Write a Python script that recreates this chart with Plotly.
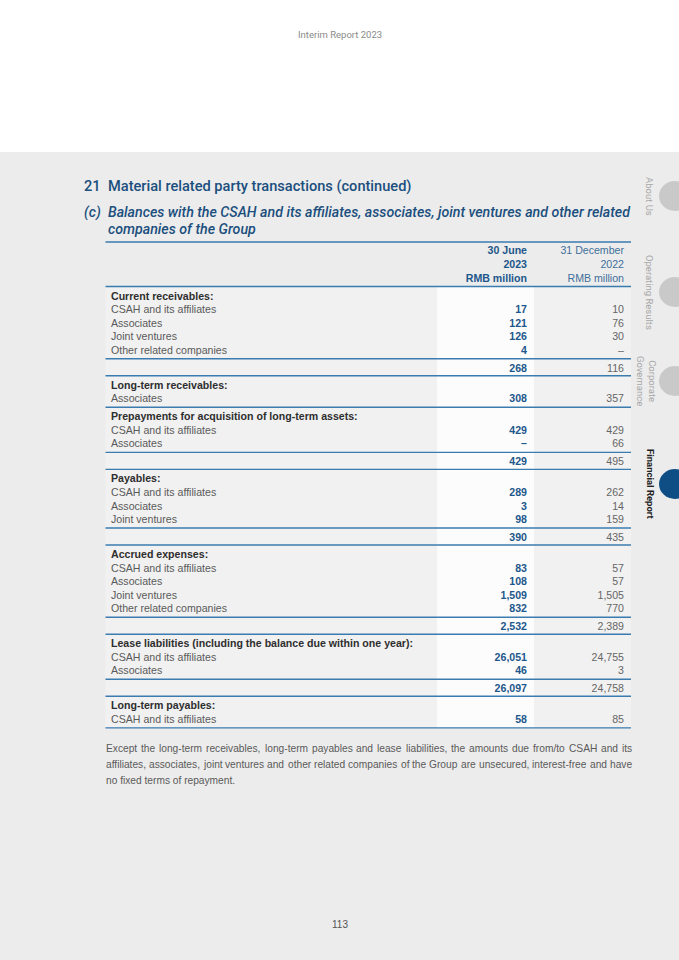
import plotly.graph_objects as go

# ---------------- data ----------------
section_titles = [
    "Current receivables:",
    "Long-term receivables:",
    "Prepayments for acquisition of long-term assets:",
    "Payables:",
    "Accrued expenses:",
    "Lease liabilities (including the balance due within one year):",
    "Long-term payables:",
]
item_labels = [
    ["CSAH and its affiliates", "Associates", "Joint ventures", "Other related companies"],
    ["Associates"],
    ["CSAH and its affiliates", "Associates"],
    ["CSAH and its affiliates", "Associates", "Joint ventures"],
    ["CSAH and its affiliates", "Associates", "Joint ventures", "Other related companies"],
    ["CSAH and its affiliates", "Associates"],
    ["CSAH and its affiliates"],
]
values_2023 = [
    [17, 121, 126, 4],
    [308],
    [429, None],
    [289, 3, 98],
    [83, 108, 1509, 832],
    [26051, 46],
    [58],
]
values_2022 = [
    [10, 76, 30, None],
    [357],
    [429, 66],
    [262, 14, 159],
    [57, 57, 1505, 770],
    [24755, 3],
    [85],
]
subtotal_2023 = [268, None, 429, 390, 2532, 26097, None]
subtotal_2022 = [116, None, 495, 435, 2389, 24758, None]

header_2023 = ["30 June", "2023", "RMB million"]
header_2022 = ["31 December", "2022", "RMB million"]

side_tabs = ["About Us", "Operating Results", "Corporate<br>Governance", "Financial Report"]

note_lines = [
    "Except the long-term receivables, long-term payables and lease liabilities, the amounts due from/to CSAH and its",
    "affiliates, associates, joint ventures and other related companies of the Group are unsecured, interest-free and have",
    "no fixed terms of repayment.",
]

# ---------------- styling ----------------
BLUE_DARK = "#1b4f7e"
BLUE_VAL = "#1d578b"
LINE_BLUE = "#3a7bb0"
GREY_TXT = "#5a5a5a"
HEAD_TXT = "#2e2e2e"
PAGE_GREY = "#ececec"
TABLE_BG = "#f1f1f1"
BODY_FONT = "Liberation Sans, Arial, sans-serif"
TITLE_FONT = "Roboto, sans-serif"
FS = 10.6
NOTE_FS = 10.2

X_LABEL, X_C1, X_C2 = 111, 527, 624
X_L, X_R = 105.5, 631
X_WHITE0, X_WHITE1 = 437, 534

# Arial / Liberation Sans advance widths (per 1000 em), used to justify the note
W = {' ': 278, ',': 278, '-': 333, '.': 278, '/': 278, '(': 333, ')': 333,
     'A': 667, 'B': 667, 'C': 722, 'D': 722, 'E': 667, 'F': 611, 'G': 778, 'H': 722, 'I': 278,
     'J': 500, 'K': 667, 'L': 556, 'M': 833, 'N': 722, 'O': 778, 'P': 667, 'Q': 778, 'R': 722,
     'S': 667, 'T': 611, 'U': 722, 'V': 667, 'W': 944, 'X': 667, 'Y': 667, 'Z': 611,
     'a': 556, 'b': 556, 'c': 500, 'd': 556, 'e': 556, 'f': 278, 'g': 556, 'h': 556, 'i': 222,
     'j': 222, 'k': 500, 'l': 222, 'm': 833, 'n': 556, 'o': 556, 'p': 556, 'q': 556, 'r': 333,
     's': 500, 't': 278, 'u': 556, 'v': 500, 'w': 722, 'x': 500, 'y': 500, 'z': 500}


def text_width(s, size):
    return sum(W.get(c, 556) for c in s) * size / 1000.0


def fmt(v):
    return "–" if v is None else f"{v:,}"


# ---------------- row layout ----------------
PITCH, LAST_TO_LINE, LINE_TO_SUB, SUB_TO_LINE, LINE_TO_HEAD = 13.55, 7.5, 10.5, 6.5, 10.5
header_line = 286.5
lines = [header_line]
heads, items, subs = [], [], []
y = header_line
for s, title in enumerate(section_titles):
    yh = y + LINE_TO_HEAD
    heads.append((yh, title))
    yi = yh
    for k, lab in enumerate(item_labels[s]):
        yi = yi + PITCH
        items.append((yi, lab, values_2023[s][k], values_2022[s][k]))
    y = yi + LAST_TO_LINE
    lines.append(y)
    if subtotal_2023[s] is not None:
        ys = y + LINE_TO_SUB
        subs.append((ys, subtotal_2023[s], subtotal_2022[s]))
        y = ys + SUB_TO_LINE
        lines.append(y)
table_bottom = lines[-1]

fig = go.Figure()

# labels
fig.add_trace(go.Scatter(
    x=[X_LABEL] * len(heads), y=[h[0] for h in heads], text=[h[1] for h in heads],
    mode="text", textposition="middle right",
    textfont=dict(family=BODY_FONT, size=FS, color=HEAD_TXT, weight="bold"), hoverinfo="skip"))
fig.add_trace(go.Scatter(
    x=[X_LABEL] * len(items), y=[r[0] for r in items], text=[r[1] for r in items],
    mode="text", textposition="middle right",
    textfont=dict(family=BODY_FONT, size=FS, color=GREY_TXT), hoverinfo="skip"))
# values
fig.add_trace(go.Scatter(
    x=[X_C1] * (len(items) + len(subs)),
    y=[r[0] for r in items] + [s[0] for s in subs],
    text=[fmt(r[2]) for r in items] + [fmt(s[1]) for s in subs],
    mode="text", textposition="middle left",
    textfont=dict(family=BODY_FONT, size=FS, color=BLUE_VAL, weight="bold"), hoverinfo="skip"))
fig.add_trace(go.Scatter(
    x=[X_C2] * (len(items) + len(subs)),
    y=[r[0] for r in items] + [s[0] for s in subs],
    text=[fmt(r[3]) for r in items] + [fmt(s[2]) for s in subs],
    mode="text", textposition="middle left",
    textfont=dict(family=BODY_FONT, size=FS, color="#666666"), hoverinfo="skip"))
# column headers
hy = [251, 265, 279]
fig.add_trace(go.Scatter(
    x=[X_C1] * 3, y=hy, text=header_2023, mode="text", textposition="middle left",
    textfont=dict(family=BODY_FONT, size=FS, color=BLUE_VAL, weight="bold"), hoverinfo="skip"))
fig.add_trace(go.Scatter(
    x=[X_C2] * 3, y=hy, text=header_2022, mode="text", textposition="middle left",
    textfont=dict(family=BODY_FONT, size=FS, color="#3f6f9b"), hoverinfo="skip"))

shapes = []
shapes.append(dict(type="rect", x0=0, x1=679, y0=152, y1=960, fillcolor=PAGE_GREY, line_width=0, layer="below"))
shapes.append(dict(type="rect", x0=X_L, x1=X_R, y0=header_line, y1=table_bottom, fillcolor=TABLE_BG, line_width=0, layer="below"))
shapes.append(dict(type="rect", x0=X_WHITE0, x1=X_WHITE1, y0=header_line, y1=table_bottom, fillcolor="#fcfcfc", line_width=0, layer="below"))
for ly in [242] + lines:
    shapes.append(dict(type="line", x0=X_L, x1=X_R, y0=ly, y1=ly, line=dict(color=LINE_BLUE, width=1.4)))

# side tabs
tab_y = [196, 292, 381, 484]
tab_col = ["#c9c9c9", "#c9c9c9", "#c9c9c9", "#0f4e85"]
for ty, tc in zip(tab_y, tab_col):
    shapes.append(dict(type="circle", x0=659, x1=691, y0=ty - 15, y1=ty + 15, fillcolor=tc, line_width=0))

annotations = []
annotations.append(dict(x=340, y=34, text="Interim Report 2023", showarrow=False,
                        font=dict(family=TITLE_FONT, size=9.5, color="#8a8a8a")))
annotations.append(dict(x=82, y=186, text="21", xanchor="left", showarrow=False,
                        font=dict(family=TITLE_FONT, size=14.6, color=BLUE_DARK, weight=500)))
annotations.append(dict(x=106, y=186, text="Material related party transactions (continued)", xanchor="left",
                        showarrow=False, font=dict(family=TITLE_FONT, size=14.6, color=BLUE_DARK, weight=500)))
annotations.append(dict(x=82, y=212, text="<i>(c)</i>", xanchor="left", showarrow=False,
                        font=dict(family=TITLE_FONT, size=14.2, color=BLUE_DARK, weight=500)))
annotations.append(dict(x=106, y=212,
                        text="<i>Balances with the CSAH and its affiliates, associates, joint ventures and other related</i>",
                        xanchor="left", showarrow=False,
                        font=dict(family=TITLE_FONT, size=14.2, color=BLUE_DARK, weight=500)))
annotations.append(dict(x=106, y=229, text="<i>companies of the Group</i>", xanchor="left", showarrow=False,
                        font=dict(family=TITLE_FONT, size=14.2, color=BLUE_DARK, weight=500)))

# justified note paragraph (last line left-aligned)
NOTE_X0, NOTE_X1 = 105, 631
for i, line in enumerate(note_lines):
    yline = 748 + 16 * i
    words = line.split(" ")
    if i == len(note_lines) - 1 or len(words) < 2:
        annotations.append(dict(x=NOTE_X0, y=yline, text=line, xanchor="left", showarrow=False,
                                borderpad=0, font=dict(family=BODY_FONT, size=NOTE_FS, color=GREY_TXT)))
        continue
    widths = [text_width(w, NOTE_FS) for w in words]
    gap = (NOTE_X1 - NOTE_X0 - sum(widths)) / (len(words) - 1)
    xpos = NOTE_X0
    for w, wd in zip(words, widths):
        annotations.append(dict(x=xpos, y=yline, text=w, xanchor="left", showarrow=False,
                                borderpad=0, font=dict(family=BODY_FONT, size=NOTE_FS, color=GREY_TXT)))
        xpos += wd + gap

annotations.append(dict(x=340, y=924, text="113", showarrow=False,
                        font=dict(family=BODY_FONT, size=10, color="#555555")))

side_x = [650, 650, 647, 651]
for i, (t, ty, sx) in enumerate(zip(side_tabs, tab_y, side_x)):
    last = i == len(side_tabs) - 1
    annotations.append(dict(x=sx, y=ty, text=t, textangle=90, showarrow=False,
                            font=dict(family=TITLE_FONT, size=9.5,
                                      color="#222222" if last else "#a8a8a8",
                                      weight="bold" if last else "normal")))

fig.update_layout(
    width=679, height=960,
    margin=dict(l=0, r=0, t=0, b=0),
    paper_bgcolor="white", plot_bgcolor="white",
    showlegend=False,
    xaxis=dict(range=[0, 679], visible=False, fixedrange=True),
    yaxis=dict(range=[960, 0], visible=False, fixedrange=True),
    shapes=shapes, annotations=annotations,
)

fig.write_html("out.html", config={"displayModeBar": False},
               post_script="document.body.style.margin='0';document.body.style.overflow='hidden';")
